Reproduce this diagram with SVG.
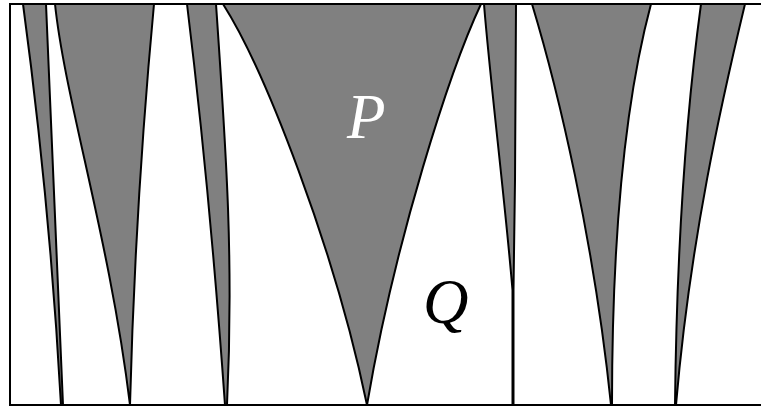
<svg xmlns="http://www.w3.org/2000/svg" width="761" height="407" viewBox="0 0 761 407">
<style>
.r{fill:#808080;stroke:#000;stroke-width:2;stroke-linejoin:round}
.f{fill:#fff;stroke:#000;stroke-width:2}
.t{font-family:"Liberation Serif",serif;font-style:italic;font-size:63px}
</style>
<rect x="0" y="0" width="761" height="407" fill="#fff"/>
<rect class="f" x="10" y="4" width="760" height="401"/>
<g id="s1"><path class="r" d="M23,4 L46,4 L63,405 L61,405 Q50,204 23,4 Z"/></g>
<g id="s2"><path class="r" d="M55,4 L154,4 C145,100 134,250 130,405 C110,240 65,100 55,4 Z"/></g>
<g id="s3"><path class="r" d="M187,4 L216,4 C226,150 234,260 227,405 L225,405 C214,250 200,110 187,4 Z"/></g>
<g id="P"><path class="r" d="M223,4 L481,4 C450,70 395,240 367,405 C335,250 265,70 223,4 Z"/>
<text class="t" x="347" y="138" fill="#fff">P</text></g>
<g id="s5"><path class="r" d="M484,4 L516,4 L515,180 L513.5,290 L513.5,405 L512.5,405 L512.5,290 C505,200 490,80 484,4 Z"/></g>
<g id="s6"><path class="r" d="M532,4 L651,4 C628,90 612,220 612,405 L611,405 C594,240 558,90 532,4 Z"/></g>
<g id="s7"><path class="r" d="M701,4 L745,4 C722,100 690,240 676,405 L675,405 C677,220 688,100 701,4 Z"/></g>
<g id="Q"><text class="t" x="423" y="323" fill="#000">Q</text></g>
<line x1="10" y1="405" x2="761" y2="405" stroke="#000" stroke-width="2"/>
</svg>
